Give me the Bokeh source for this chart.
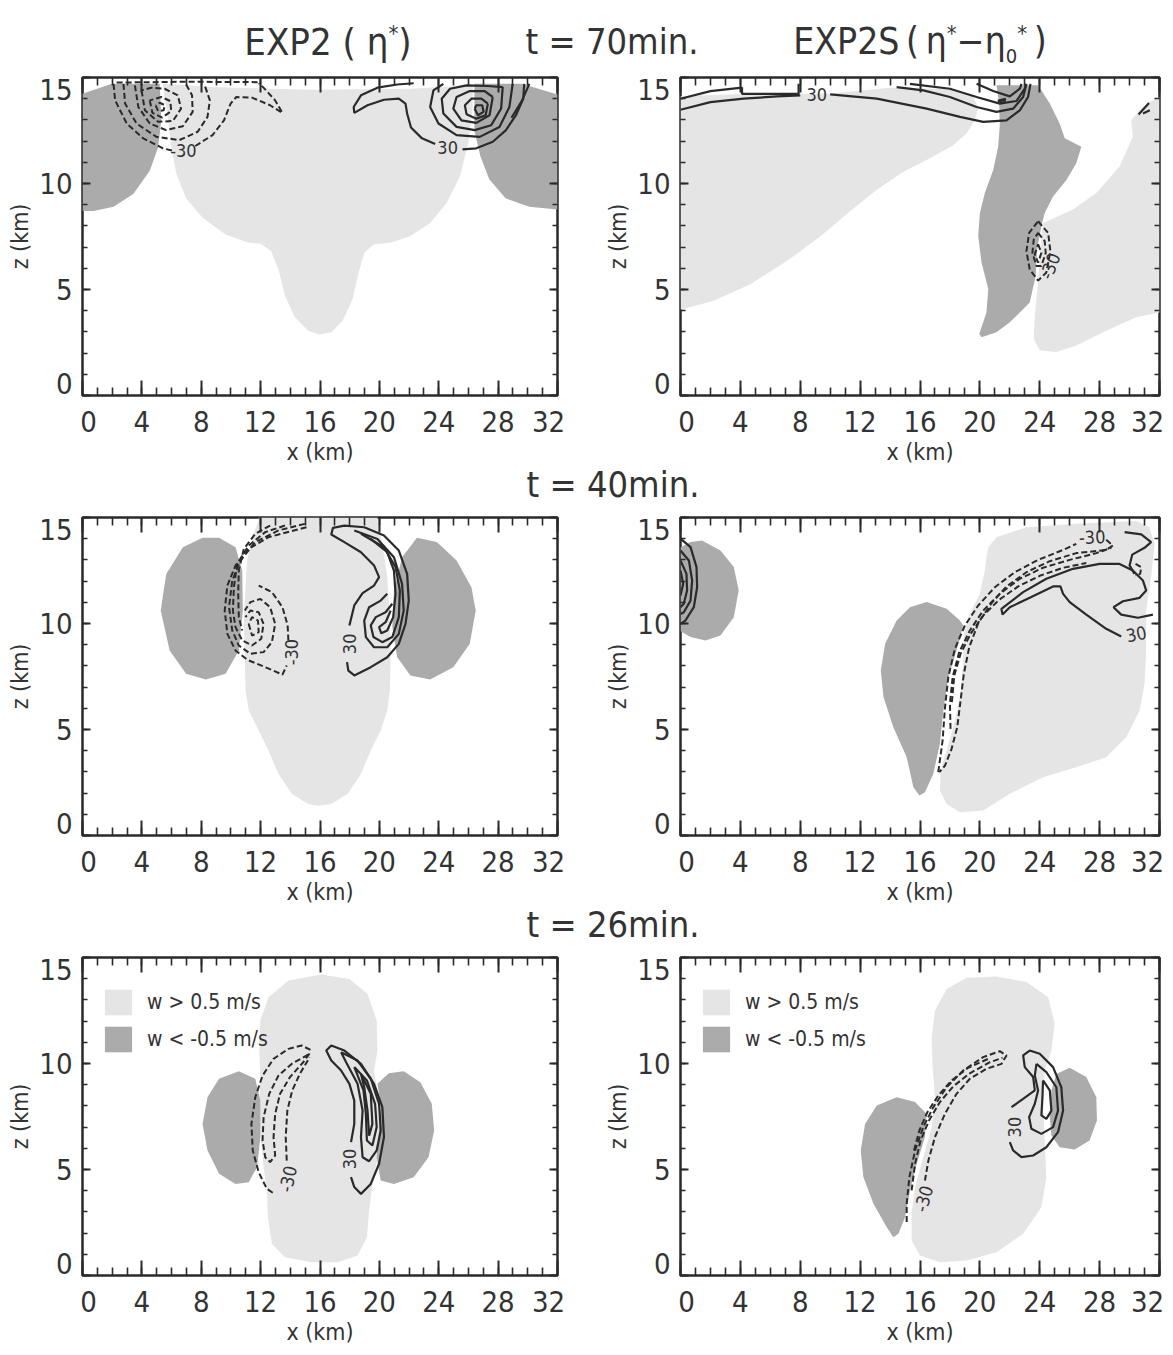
import math
from bokeh.plotting import figure
from bokeh.models import LinearAxis, FixedTicker, Range1d, Div, Legend, LegendItem
from bokeh.layouts import column, row
from bokeh.embed import file_html
from bokeh.resources import INLINE
from bokeh.core.properties import value

FONT = "DejaVu Sans Condensed"
LIGHT = "#e5e5e5"
DARK = "#ababab"
INK = "#2a2a2a"
TXT = "#333333"

X_TICKS = [0, 4, 8, 12, 16, 20, 24, 28, 32]
X_MINOR = list(range(0, 33))
Z_TICKS = [0, 5, 10, 15]
Z_MINOR = list(range(0, 16))
X_TICK_TEXT = ["0", "4", "8", "12", "16", "20", "24", "28", "32"]
Z_TICK_TEXT = ["0", "5", "10", "15"]
# where the reference prints its tick labels (edge labels are drawn inset)
X_TEXT_POS_L = [0.4, 4, 8, 12, 16, 20, 24, 28, 31.4]
X_TEXT_POS_R = [0.4, 4, 8, 12, 16, 20, 24, 28, 31.2]
Z_TEXT_POS = [0.55, 5, 10, 14.45]
X_LABEL = "x (km)"
Z_LABEL = "z (km)"
LEGEND_LABELS = ["w > 0.5 m/s", "w < -0.5 m/s"]
TIME_LABELS = ["t = 70min.", "t = 40min.", "t = 26min."]

# ---------------- Panel 1 : EXP2, t = 70 min ----------------
P1_LIGHT = [[(5.42, 14.70), (8.76, 14.55), (15.42, 14.42), (22.09, 14.47), (26.31, 14.63), (26.27, 13.45),
             (25.98, 11.89), (25.42, 10.33), (24.53, 9.08), (23.42, 8.14), (22.09, 7.52), (20.76, 7.20),
             (19.64, 7.13), (18.98, 6.73), (18.60, 5.80), (18.20, 4.55), (17.53, 3.53), (16.76, 2.98),
             (15.98, 2.88), (15.20, 3.06), (14.31, 3.69), (13.64, 4.70), (13.20, 5.95), (12.71, 6.81),
             (11.98, 7.17), (11.20, 7.20), (9.64, 7.59), (8.09, 8.38), (6.98, 9.31), (6.31, 10.48),
             (5.98, 11.73), (5.76, 13.0), (5.53, 14.08)]]
P1_DARK = [[(0, 14.23), (1.98, 14.7), (5.2, 14.7), (5.31, 13.0), (5.09, 11.7), (4.53, 10.6), (3.42, 9.5),
            (2.09, 8.9), (0.76, 8.7), (0, 8.7)],
           [(26.4, 14.7), (29.6, 14.7), (32, 14.2), (32, 8.77), (30.1, 8.9), (28.5, 9.3), (27.4, 10.2),
            (26.8, 11.3), (26.4, 12.5), (26.4, 13.8)]]
P1_NEG = [[(2.3, 14.76), (7.0, 14.8), (11.9, 14.78)],
          [(2.09, 14.70), (2.20, 13.92), (2.98, 12.83), (4.09, 12.13), (5.42, 11.66), (6.04, 11.55)],
          [(7.60, 11.77), (8.76, 12.28), (9.53, 12.98), (9.98, 13.77), (10.36, 14.08), (11.42, 14.05),
           (12.64, 13.69), (13.47, 13.33), (12.98, 13.92), (12.2, 14.52), (11.87, 14.73)],
          [(2.76, 14.70), (2.87, 13.77), (3.64, 12.83), (4.98, 12.2), (6.53, 12.05), (7.76, 12.44),
           (8.42, 13.14), (8.58, 13.92), (8.2, 14.7)],
          [(3.53, 14.63), (3.76, 13.61), (4.53, 12.83), (5.64, 12.52), (6.76, 12.7), (7.42, 13.38),
           (7.38, 14.16), (6.98, 14.67)],
          [(3.98, 14.39), (4.2, 13.45), (5.09, 12.91), (6.09, 12.95), (6.64, 13.53), (6.42, 14.16),
           (5.53, 14.47), (4.64, 14.52), (3.98, 14.39)],
          [(4.53, 13.92), (4.71, 13.33), (5.38, 13.11), (5.98, 13.42), (5.91, 13.89), (5.31, 14.08), (4.53, 13.92)],
          [(4.93, 13.69), (5.09, 13.42), (5.47, 13.45), (5.53, 13.70), (5.2, 13.81), (4.93, 13.69)]]
P1_POS = [[(29.76, 14.70), (29.69, 14.0), (29.2, 13.22), (28.53, 12.52), (27.64, 11.97), (26.53, 11.66), (25.6, 11.61)],
          [(23.76, 11.86), (22.87, 12.13), (22.13, 12.64), (21.87, 13.3), (21.76, 13.77), (21.31, 14.0),
           (20.31, 13.95), (19.2, 13.69), (18.31, 13.33), (18.27, 13.61), (18.76, 14.16), (19.87, 14.52),
           (21.2, 14.67), (22.31, 14.73)],
          [(28.98, 14.7), (28.76, 13.61), (28.09, 12.67), (26.76, 12.2), (25.2, 12.28), (23.98, 12.83),
           (23.42, 13.61), (23.64, 14.39), (24.31, 14.7)],
          [(28.31, 14.55), (28.2, 13.53), (27.53, 12.75), (26.42, 12.52), (25.2, 12.67), (24.31, 13.3),
           (24.2, 14.0), (24.76, 14.47), (25.87, 14.63), (27.3, 14.6), (28.31, 14.55)],
          [(27.64, 14.08), (27.42, 13.22), (26.53, 12.86), (25.53, 12.98), (24.98, 13.53), (25.2, 14.08),
           (26.09, 14.36), (27.09, 14.36), (27.64, 14.08)],
          [(27.31, 13.77), (27.16, 13.22), (26.53, 13.06), (25.87, 13.27), (25.76, 13.69), (26.2, 14.0),
           (26.87, 14.0), (27.31, 13.77)],
          [(26.42, 13.53), (26.64, 13.22), (27.02, 13.38), (26.93, 13.69), (26.53, 13.69), (26.42, 13.53)],
          [(30.1, 14.7), (29.6, 13.9), (28.9, 13.1)]]
P1_LABELS = [("-30", 6.8, 11.55, 0.0), ("30", 24.6, 11.72, 0.0)]

# ---------------- Panel 2 : EXP2S, t = 70 min ----------------
P2_LIGHT = [[(0, 14.11), (4.22, 14.23), (9.78, 14.23), (14.0, 14.52), (17.56, 14.47), (19.44, 14.23),
             (19.89, 13.61), (19.67, 12.98), (19.11, 12.36), (18.22, 11.81), (16.67, 11.19), (14.89, 10.56),
             (13.11, 9.7), (11.33, 8.69), (9.33, 7.5), (7.11, 6.34), (4.67, 5.25), (2.22, 4.47), (0, 4.05)],
            [(24.22, 8.14), (26.22, 8.77), (27.78, 9.55), (29.33, 10.8), (30.22, 12.2), (30.11, 12.98),
             (30.67, 13.45), (31.33, 13.84), (32, 14.08), (32, 3.92), (30.44, 3.69), (28.22, 2.98),
             (26.44, 2.36), (25.11, 2.05), (24.0, 2.13), (23.6, 2.67), (23.67, 3.77), (23.89, 5.33),
             (24.0, 6.58), (24.11, 7.52)]]
P2_DARK = [[(21.11, 14.63), (23.89, 14.63), (24.67, 13.77), (25.33, 12.83), (25.67, 12.13), (26.78, 11.73),
            (26.44, 10.95), (25.78, 10.17), (24.89, 9.39), (24.33, 8.61), (24.11, 7.98), (23.82, 6.89),
            (23.73, 5.64), (23.33, 4.39), (22.0, 3.45), (21.11, 2.98), (20.11, 2.75), (19.96, 2.91),
            (20.44, 3.92), (20.56, 5.02), (20.11, 6.27), (19.89, 7.52), (20.0, 8.61), (20.33, 9.55),
            (20.89, 10.64), (21.22, 11.73), (21.33, 12.75), (21.29, 13.77)]]
P2_NEG = [[(23.89, 8.22), (24.56, 7.67), (24.71, 6.81), (24.44, 5.8), (23.89, 5.42), (23.33, 5.95),
           (23.11, 6.81), (23.29, 7.67), (23.89, 8.22)],
          [(23.89, 7.67), (24.33, 7.28), (24.4, 6.73), (24.11, 6.11), (23.78, 6.11), (23.51, 6.73),
           (23.6, 7.36), (23.89, 7.67)],
          [(23.89, 7.13), (24.11, 6.73), (23.89, 6.27), (23.67, 6.66), (23.89, 7.13)]]
P2_POS = [[(0, 13.48), (2.0, 13.84), (4.22, 14.0), (6.44, 14.11), (8.0, 14.16)],
          [(10.0, 14.2), (13.11, 14.0), (16.44, 13.53), (18.67, 13.14), (20.22, 12.91), (21.78, 12.98),
           (22.67, 13.45), (23.22, 14.08), (23.38, 14.7)],
          [(0, 14.0), (2.0, 14.36), (4.11, 14.52), (4.11, 14.23), (7.89, 14.23), (7.89, 14.7)],
          [(14.44, 14.55), (16.22, 14.39), (18.0, 14.08), (19.78, 13.61), (21.11, 13.38), (22.22, 13.53),
           (22.89, 14.08), (23.11, 14.7)],
          [(15.33, 14.7), (18.0, 14.47), (19.78, 14.08), (21.33, 13.77), (22.44, 13.89), (23.0, 14.47), (23.07, 14.7)],
          [(19.78, 14.7), (20.89, 14.36), (22.0, 14.11), (22.67, 14.47), (22.78, 14.7)],
          [(21.2, 13.9), (21.7, 14.0), (21.6, 13.8), (21.2, 13.9)],
          [(30.6, 13.25), (31.3, 13.8)],
          [(30.9, 13.3), (31.35, 13.45)]]
P2_LABELS = [("30", 9.1, 14.2, 0.0), ("-30", 24.7, 6.1, 1.2)]

# ---------------- Panel 3 : EXP2, t = 40 min ----------------
P3_LIGHT = [[(11.87, 15.0), (19.87, 15.0), (19.87, 14.78), (20.2, 13.76), (20.53, 12.19), (20.71, 10.14),
             (20.76, 8.57), (20.71, 6.84), (20.53, 5.9), (20.09, 4.95), (19.42, 4.01), (18.76, 2.91),
             (17.87, 1.97), (16.76, 1.49), (15.87, 1.40), (15.2, 1.49), (14.09, 1.97), (13.2, 2.91),
             (12.53, 4.01), (11.87, 4.95), (11.2, 5.9), (10.98, 6.84), (10.93, 8.57), (10.87, 10.14),
             (10.98, 11.71), (11.09, 12.97), (11.42, 14.06), (11.87, 14.86)]]
P3_DARK = [[(9.2, 14.04), (10.31, 13.6), (10.76, 12.5), (10.8, 10.61), (10.53, 8.73), (9.64, 7.63),
            (8.31, 7.36), (6.98, 7.63), (5.87, 8.73), (5.27, 10.61), (5.64, 12.34), (6.76, 13.6), (8.09, 14.04)],
           [(22.53, 14.04), (23.87, 13.84), (25.2, 12.97), (26.2, 11.71), (26.49, 10.61), (26.09, 9.04),
            (24.98, 7.94), (23.42, 7.36), (22.09, 7.55), (21.2, 8.41), (20.87, 9.83), (20.98, 11.56), (21.53, 13.13)]]
P3_NEG = [[(15.09, 14.54), (14.09, 14.36), (12.53, 14.07), (11.2, 13.52), (10.31, 12.74), (9.76, 11.79),
           (9.58, 10.61), (9.76, 9.51), (10.31, 8.73), (11.09, 8.29), (12.31, 7.94), (13.47, 7.59), (13.76, 8.02)],
          [(13.87, 9.2), (13.82, 9.91), (13.47, 10.77), (12.76, 11.48), (11.87, 11.79)],
          [(14.98, 14.7), (13.2, 14.39), (11.64, 13.84), (10.64, 12.97), (10.09, 12.03), (9.87, 10.77),
           (10.09, 9.67), (10.53, 8.96), (11.31, 8.57), (12.2, 8.65), (12.76, 9.12), (12.98, 9.98),
           (12.64, 10.77), (11.98, 11.16), (11.31, 11.01), (10.93, 10.61)],
          [(13.64, 14.62), (12.31, 14.31), (11.2, 13.68), (10.42, 12.81), (10.2, 11.71), (10.13, 10.61),
           (10.31, 9.83), (10.76, 9.2), (11.42, 8.96), (12.04, 9.28), (12.2, 9.98), (11.87, 10.53),
           (11.31, 10.61), (10.98, 10.3)],
          [(12.64, 14.62), (11.64, 14.23), (10.87, 13.52), (10.53, 12.5), (10.49, 11.4), (10.53, 10.3), (10.76, 9.67)],
          [(11.2, 9.98), (11.42, 9.43), (11.87, 9.59), (11.82, 10.14), (11.42, 10.3), (11.2, 9.98)]]
P3_POS = [[(17.98, 9.91), (18.31, 10.85), (18.87, 11.43), (19.64, 11.79), (19.98, 12.19), (19.64, 12.74),
           (18.76, 13.36), (17.64, 13.84), (16.76, 14.2), (16.87, 14.51), (17.64, 14.62), (18.98, 14.54),
           (20.31, 14.15), (21.31, 13.44), (21.87, 12.34), (21.98, 11.08), (21.76, 9.98), (21.31, 9.04),
           (20.53, 8.41), (19.42, 7.94), (18.31, 7.55), (17.91, 7.78), (17.82, 8.18)],
          [(18.31, 14.39), (19.87, 13.99), (20.98, 13.13), (21.53, 11.87), (21.64, 10.61), (21.31, 9.51),
           (20.53, 8.88), (19.64, 8.88), (19.09, 9.36), (18.98, 10.14), (19.31, 10.77), (20.09, 11.08), (20.53, 11.4)],
          [(18.76, 14.23), (20.31, 13.6), (21.09, 12.66), (21.38, 11.56), (21.31, 10.3), (20.87, 9.36),
           (20.2, 9.12), (19.6, 9.36), (19.42, 9.91), (19.76, 10.3), (20.42, 10.53), (20.87, 10.93)],
          [(19.42, 13.99), (20.53, 13.36), (20.98, 12.5), (21.09, 11.4), (20.93, 10.3), (20.53, 9.67),
           (20.13, 9.54), (19.98, 9.83), (20.42, 10.06), (20.76, 10.61)]]
P3_LABELS = [("-30", 14.1, 8.65, math.pi / 2), ("30", 17.98, 9.04, math.pi / 2)]

# ---------------- Panel 4 : EXP2S, t = 40 min ----------------
P4_LIGHT = [[(20.56, 13.6), (21.11, 14.07), (23.11, 14.54), (26.44, 14.7), (30.44, 14.83), (31.33, 14.54),
             (31.67, 13.76), (31.44, 12.19), (31.11, 10.61), (31.11, 8.73), (31.0, 7.15), (30.67, 5.9),
             (29.78, 4.64), (28.44, 3.69), (26.44, 3.22), (24.22, 2.75), (22.0, 1.97), (20.22, 1.18),
             (18.67, 1.1), (17.78, 1.49), (17.33, 2.12), (17.38, 3.07), (17.78, 4.01), (18.22, 5.11),
             (18.67, 6.53), (18.89, 8.25), (18.93, 9.51), (19.33, 10.46), (20.0, 11.4), (20.33, 12.5), (20.44, 13.13)]]
P4_DARK = [[(1.44, 13.92), (2.67, 13.44), (3.56, 12.66), (3.89, 11.56), (3.56, 10.3), (2.67, 9.43),
            (1.67, 9.2), (0.67, 9.36), (0, 9.64), (0, 13.6), (0.67, 13.84)],
           [(16.44, 11.01), (17.78, 10.69), (18.67, 10.14), (18.89, 9.91), (18.44, 8.73), (17.89, 7.47),
            (17.56, 5.9), (17.33, 4.32), (16.89, 2.91), (16.33, 2.04), (15.96, 1.89), (15.56, 2.28),
            (15.11, 3.69), (14.22, 5.11), (13.56, 6.53), (13.38, 7.78), (13.67, 9.04), (14.44, 10.14), (15.33, 10.77)]]
P4_NEG = [[(17.22, 2.99), (17.51, 4.48), (17.67, 6.05), (17.89, 7.47), (18.33, 8.81), (19.0, 9.91),
           (19.89, 10.85), (21.0, 11.71), (22.33, 12.42), (23.89, 13.0), (25.56, 13.47), (26.44, 13.76)],
          [(28.44, 13.95), (28.89, 13.68), (28.44, 13.47), (26.44, 13.32), (24.67, 12.94), (23.11, 12.42),
           (21.78, 11.75), (20.78, 10.96), (19.89, 10.02), (19.29, 8.88), (18.93, 7.63), (18.71, 6.37),
           (18.49, 5.11), (18.11, 4.09), (17.67, 3.3), (17.29, 2.99)],
          [(18.04, 5.03), (18.0, 6.21), (18.18, 7.47), (18.62, 8.65), (19.33, 9.67), (20.22, 10.61),
           (21.33, 11.4), (22.67, 12.11), (24.22, 12.63), (26.0, 13.0), (27.78, 13.32), (28.78, 13.57)],
          [(18.13, 6.29), (18.29, 7.55), (18.71, 8.57), (19.38, 9.51), (20.22, 10.38), (21.29, 11.12),
           (22.56, 11.75), (24.0, 12.25), (25.56, 12.63), (27.11, 12.85)],
          [(30.4, 12.81), (30.78, 12.66), (30.71, 12.34), (30.4, 12.26)]]
P4_POS = [[(0, 14.0), (0.67, 13.6), (1.07, 12.66), (1.11, 11.71), (0.89, 10.77), (0.33, 10.14), (0, 9.98)],
          [(0, 13.44), (0.56, 12.97), (0.78, 12.03), (0.67, 11.08), (0.22, 10.53), (0, 10.45)],
          [(0, 12.97), (0.4, 12.34), (0.44, 11.56), (0.22, 10.93), (0, 10.77)],
          [(0, 12.5), (0.18, 11.87), (0, 11.32)],
          [(29.44, 9.39), (28.44, 9.75), (27.11, 10.42), (26.0, 11.01), (25.56, 11.4), (25.38, 11.75),
           (24.89, 11.75), (23.33, 11.21), (22.0, 10.77), (21.51, 10.42), (21.44, 10.69), (22.89, 11.48),
           (24.44, 12.11), (26.22, 12.58), (28.0, 12.81), (29.33, 12.81), (30.22, 12.5), (30.89, 12.03),
           (31.11, 11.56), (30.67, 11.21), (29.56, 11.05), (28.93, 10.77), (29.44, 10.42), (30.56, 10.27), (31.56, 10.42)],
          [(29.67, 14.31), (30.78, 14.2), (31.44, 13.84), (31.0, 13.57), (30.18, 13.25), (30.0, 12.74), (30.33, 12.34)]]
P4_LABELS = [("-30", 27.5, 14.07, 0.05), ("30", 30.45, 9.5, 0.2)]

# ---------------- Panel 5 : EXP2, t = 26 min ----------------
P5_LIGHT = [[(16.09, 14.2), (17.98, 13.99), (19.2, 13.29), (19.82, 12.03), (19.87, 10.61), (19.64, 9.67),
             (19.98, 8.25), (19.98, 5.9), (19.53, 4.32), (19.31, 3.07), (19.16, 1.81), (18.53, 0.94),
             (17.2, 0.63), (15.42, 0.63), (13.64, 0.86), (12.76, 1.49), (12.49, 2.75), (12.42, 4.01),
             (12.2, 5.11), (11.87, 7.47), (11.98, 9.36), (11.91, 10.61), (11.98, 12.03), (12.53, 13.13), (13.87, 13.92)]]
P5_DARK = [[(10.53, 9.64), (11.64, 9.28), (11.98, 8.25), (11.98, 6.53), (11.76, 5.11), (11.2, 4.4),
            (10.31, 4.32), (9.2, 4.8), (8.42, 5.9), (8.09, 7.15), (8.42, 8.41), (9.2, 9.28)],
           [(21.64, 9.64), (22.76, 9.12), (23.53, 8.1), (23.69, 6.84), (23.31, 5.58), (22.31, 4.64),
            (20.98, 4.32), (20.09, 4.48), (19.82, 5.58), (19.98, 6.84), (20.09, 8.1), (19.87, 9.04), (20.64, 9.54)]]
P5_NEG = [[(15.36, 10.64), (14.76, 10.85), (13.87, 10.69), (12.87, 10.22), (12.13, 9.43), (11.64, 8.41),
           (11.38, 7.15), (11.47, 5.9), (11.87, 4.87), (12.42, 4.09), (12.93, 3.85)],
          [(15.2, 10.42), (14.09, 9.98), (13.2, 9.43), (12.58, 8.57), (12.2, 7.47), (12.13, 6.37), (12.31, 5.58),
           (12.64, 5.35), (12.98, 5.66), (12.87, 6.53), (12.98, 7.63), (13.31, 8.57), (13.98, 9.36),
           (14.87, 10.06), (15.36, 10.53)],
          [(13.76, 5.42), (13.69, 6.53), (13.8, 7.78), (14.13, 8.73), (14.64, 9.51), (15.31, 10.3)]]
P5_POS = [[(18.09, 4.64), (18.31, 4.17), (18.76, 3.85), (19.42, 4.32), (19.98, 5.27), (20.31, 6.53),
           (20.2, 7.94), (19.64, 9.04), (18.76, 9.98), (17.64, 10.61), (16.76, 10.85), (16.42, 10.61),
           (16.76, 10.14), (17.42, 9.67), (17.98, 9.04), (18.31, 8.25), (18.31, 7.15), (18.09, 6.29)],
          [(17.42, 10.53), (18.53, 10.14), (19.42, 9.28), (19.98, 8.1), (20.09, 6.84), (19.82, 5.9),
           (19.31, 5.39), (18.87, 5.58), (18.76, 6.53), (18.87, 7.78), (18.53, 9.04), (17.76, 10.06), (17.42, 10.53)],
          [(18.31, 9.83), (19.16, 9.2), (19.71, 8.1), (19.82, 7.0), (19.53, 6.13), (19.16, 6.37), (19.09, 7.63),
           (18.93, 8.73), (18.31, 9.83)],
          [(18.76, 9.51), (19.42, 8.57), (19.53, 7.15), (19.31, 6.6), (19.2, 7.78), (18.98, 8.88), (18.76, 9.51)]]
P5_LABELS = [("-30", 13.85, 4.55, 1.35), ("30", 17.98, 5.5, math.pi / 2)]

# ---------------- Panel 6 : EXP2S, t = 26 min ----------------
P6_LIGHT = [[(17.0, 12.5), (17.78, 13.52), (19.11, 14.04), (21.11, 14.1), (23.11, 13.84), (24.56, 13.13),
             (25.0, 11.87), (24.78, 10.61), (24.33, 9.67), (24.22, 8.1), (24.33, 6.53), (24.44, 4.64),
             (24.11, 3.22), (22.89, 1.97), (21.11, 1.1), (19.11, 0.71), (17.33, 0.63), (16.0, 0.94),
             (15.44, 1.65), (15.44, 2.91), (15.67, 4.17), (16.22, 5.58), (16.78, 7.0), (17.0, 8.41),
             (16.84, 9.83), (16.78, 11.24)]]
P6_DARK = [[(14.44, 8.41), (15.67, 8.18), (16.44, 7.63), (16.33, 6.53), (15.78, 5.27), (15.33, 4.01),
            (15.0, 2.75), (14.56, 1.97), (14.22, 1.81), (13.78, 2.28), (12.89, 3.38), (12.22, 4.64),
            (12.04, 5.9), (12.33, 7.15), (13.11, 8.02)],
           [(26.0, 9.8), (27.11, 9.36), (27.78, 8.41), (27.82, 7.31), (27.33, 6.37), (26.33, 5.94), (25.33, 6.05),
            (24.78, 6.6), (24.67, 7.47), (24.78, 8.73), (25.11, 9.51)]]
P6_NEG = [[(15.11, 2.52), (15.11, 3.38), (15.29, 4.64), (15.67, 5.9), (16.22, 7.0), (16.89, 7.94), (17.78, 8.88),
           (18.89, 9.67), (20.22, 10.3), (21.33, 10.58), (21.78, 10.38), (21.44, 9.98), (20.44, 9.75),
           (19.33, 9.28), (18.44, 8.57), (17.67, 7.63), (17.0, 6.53), (16.56, 5.42), (16.33, 4.48)],
          [(15.44, 4.01), (15.67, 5.27), (16.04, 6.37), (16.6, 7.31), (17.33, 8.18), (18.22, 8.92), (19.33, 9.54),
           (20.67, 10.06), (21.51, 10.27)],
          [(15.6, 5.9), (15.96, 6.84), (16.49, 7.7), (17.22, 8.49), (18.11, 9.2), (19.22, 9.8), (20.56, 10.22)]]
P6_POS = [[(22.11, 7.94), (22.89, 8.33), (23.67, 8.73), (23.56, 9.36), (23.0, 9.83), (22.89, 10.38),
           (23.33, 10.61), (24.0, 10.46), (24.89, 9.83), (25.44, 8.88), (25.56, 7.78), (25.22, 6.76),
           (24.44, 6.05), (23.56, 5.66), (22.78, 5.58), (22.22, 5.9), (22.0, 6.29)],
          [(23.78, 9.98), (24.44, 9.59), (25.11, 8.88), (25.22, 7.78), (24.89, 7.0), (24.11, 6.68), (23.44, 6.92),
           (23.29, 7.47), (23.67, 8.1), (23.89, 8.73), (23.67, 9.43), (23.78, 9.98)],
          [(24.22, 9.2), (24.67, 8.73), (24.78, 7.78), (24.44, 7.39), (24.11, 7.55), (24.18, 8.41), (24.22, 9.2)]]
P6_LABELS = [("-30", 16.25, 3.62, 1.3), ("30", 22.3, 7.0, math.pi / 2)]


def xs_ys(shapes):
    return [[p[0] for p in s] for s in shapes], [[p[1] for p in s] for s in shapes]


def tick_axis(ax, ticks, minor, tin, mtin):
    """Axis that only draws inward tick marks (no labels)."""
    ax.ticker = FixedTicker(ticks=ticks, minor_ticks=minor)
    ax.axis_line_color = None
    ax.major_tick_in = tin
    ax.major_tick_out = 0
    ax.minor_tick_in = mtin
    ax.minor_tick_out = 0
    ax.major_tick_line_color = INK
    ax.major_tick_line_width = 2
    ax.minor_tick_line_color = INK
    ax.minor_tick_line_width = 1.6
    ax.major_label_overrides = {t: "" for t in ticks}
    ax.major_label_text_font_size = "0px"
    ax.major_label_standoff = 0
    ax.axis_label = None


def label_axis(positions, texts, label, standoff, label_standoff):
    """Axis that only prints tick labels (at the reference's inset positions) and the axis title."""
    ax = LinearAxis(ticker=FixedTicker(ticks=positions, minor_ticks=[]))
    ax.axis_line_color = None
    ax.major_tick_in = 0
    ax.major_tick_out = 0
    ax.minor_tick_in = 0
    ax.minor_tick_out = 0
    ax.major_tick_line_color = None
    ax.minor_tick_line_color = None
    ax.major_label_overrides = {p: t for p, t in zip(positions, texts)}
    ax.major_label_text_font = FONT
    ax.major_label_text_font_size = "29px"
    ax.major_label_text_color = TXT
    ax.major_label_standoff = standoff
    ax.axis_label = label
    ax.axis_label_text_font = FONT
    ax.axis_label_text_font_size = "23px"
    ax.axis_label_text_font_style = "normal"
    ax.axis_label_text_color = TXT
    ax.axis_label_standoff = label_standoff
    return ax


def make_panel(light, dark, pos, neg, labels, width, bl, br, xpos, legend=False):
    p = figure(width=width, height=403, x_range=Range1d(0, 32), y_range=Range1d(0, 15),
               output_backend="svg", toolbar_location=None,
               min_border_left=bl, min_border_right=br, min_border_top=5, min_border_bottom=80)
    p.xgrid.visible = False
    p.ygrid.visible = False
    p.outline_line_color = INK
    p.outline_line_width = 2.5
    p.background_fill_color = "white"
    p.border_fill_color = "white"

    lx, ly = xs_ys(light)
    lr = p.patches(lx, ly, fill_color=LIGHT, line_color=None)
    dx, dy = xs_ys(dark)
    dr = p.patches(dx, dy, fill_color=DARK, line_color=None)
    nx, ny = xs_ys(neg)
    p.multi_line(nx, ny, line_color=INK, line_width=2, line_dash="6 3")
    px, py = xs_ys(pos)
    p.multi_line(px, py, line_color=INK, line_width=2.2)
    p.text(x=[l[1] for l in labels], y=[l[2] for l in labels], text=[l[0] for l in labels],
           angle=[l[3] for l in labels], text_font=value(FONT), text_font_size="18px",
           text_color=TXT, text_align="center", text_baseline="middle")

    tick_axis(p.xaxis[0], X_TICKS, X_MINOR, 15, 8)
    tick_axis(p.yaxis[0], Z_TICKS, Z_MINOR, 8, 5)
    p.add_layout(label_axis(xpos, X_TICK_TEXT, X_LABEL, 15, 4), "below")
    p.add_layout(label_axis(Z_TEXT_POS, Z_TICK_TEXT, Z_LABEL, 10, 3), "left")
    top = LinearAxis()
    tick_axis(top, X_TICKS, X_MINOR, 15, 8)
    p.add_layout(top, "above")
    right = LinearAxis()
    tick_axis(right, Z_TICKS, Z_MINOR, 8, 5)
    p.add_layout(right, "right")

    if legend:
        lg = Legend(items=[LegendItem(label=LEGEND_LABELS[0], renderers=[lr]),
                           LegendItem(label=LEGEND_LABELS[1], renderers=[dr])],
                    location=(19, 220), orientation="vertical",
                    border_line_color=None, background_fill_alpha=0,
                    glyph_width=34, glyph_height=32, label_height=32, spacing=5,
                    padding=0, margin=0, label_standoff=12,
                    label_text_font=FONT, label_text_font_size="21px", label_text_color=TXT)
        p.add_layout(lg)
    return p


LW, RW = 600, 573
f1 = make_panel(P1_LIGHT, P1_DARK, P1_POS, P1_NEG, P1_LABELS, LW, 82, 43, X_TEXT_POS_L)
f2 = make_panel(P2_LIGHT, P2_DARK, P2_POS, P2_NEG, P2_LABELS, RW, 80, 14, X_TEXT_POS_R)
f3 = make_panel(P3_LIGHT, P3_DARK, P3_POS, P3_NEG, P3_LABELS, LW, 82, 43, X_TEXT_POS_L)
f4 = make_panel(P4_LIGHT, P4_DARK, P4_POS, P4_NEG, P4_LABELS, RW, 80, 14, X_TEXT_POS_R)
f5 = make_panel(P5_LIGHT, P5_DARK, P5_POS, P5_NEG, P5_LABELS, LW, 82, 43, X_TEXT_POS_L, legend=True)
f6 = make_panel(P6_LIGHT, P6_DARK, P6_POS, P6_NEG, P6_LABELS, RW, 80, 14, X_TEXT_POS_R, legend=True)

FF = "font-family:'DejaVu Sans Condensed',sans-serif;color:#333;white-space:nowrap;"

top_html = (
    f"<div style=\"position:relative;width:1173px;height:72px;{FF}\">"
    f"<span style=\"position:absolute;left:328px;top:14px;transform:translateX(-50%);font-size:38px;line-height:40px;\">"
    f"EXP2 ( &eta;<sup style=\"font-size:22px;\">*</sup>)</span>"
    f"<span style=\"position:absolute;left:612px;top:22px;transform:translateX(-50%);font-size:36px;line-height:40px;\">"
    f"{TIME_LABELS[0]}</span>"
    f"<span style=\"position:absolute;left:920px;top:14px;transform:translateX(-50%);font-size:37px;line-height:40px;\">"
    f"EXP2S&thinsp;(&thinsp;&eta;<sup style=\"font-size:22px;\">*</sup>&minus;&eta;"
    f"<sub style=\"font-size:20px;\">0</sub><sup style=\"font-size:22px;\">*</sup>&thinsp;)</span>"
    f"</div>")


def mid_html(t):
    return (f"<div style=\"position:relative;width:1173px;height:37px;{FF}\">"
            f"<span style=\"position:absolute;left:613px;top:-10px;transform:translateX(-50%);font-size:36px;line-height:40px;\">"
            f"{t}</span></div>")


d_top = Div(text=top_html, width=1173, height=72, margin=(0, 0, 0, 0))
d_mid1 = Div(text=mid_html(TIME_LABELS[1]), width=1173, height=37, margin=(0, 0, 0, 0))
d_mid2 = Div(text=mid_html(TIME_LABELS[2]), width=1173, height=37, margin=(0, 0, 0, 0))

layout = column(d_top, row(f1, f2), d_mid1, row(f3, f4), d_mid2, row(f5, f6))

open("out.html", "w").write(file_html(layout, INLINE))
